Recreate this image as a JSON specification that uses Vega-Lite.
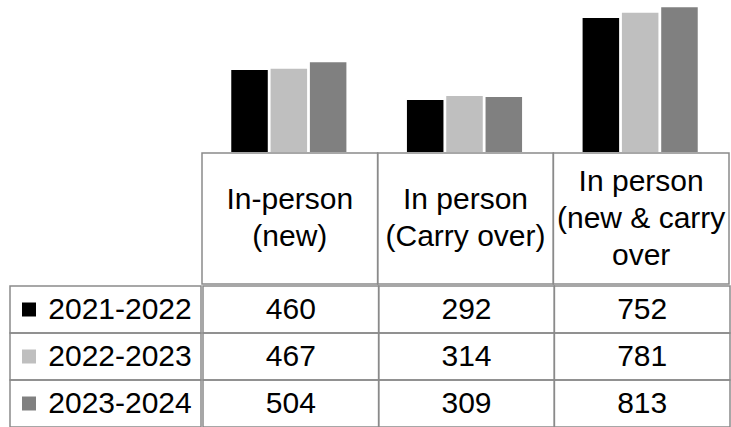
{
  "$schema": "https://vega.github.io/schema/vega-lite/v6.json",
  "padding": {"left": 9, "top": 0, "right": 4, "bottom": 0},
  "background": "white",
  "spacing": 0,
  "config": {"view": {"stroke": null}, "font": "Liberation Sans", "concat": {"spacing": 0}},
  "datasets": {
    "vals": [
      {"category": "In-person\n(new)", "year": "2021-2022", "value": 460},
      {"category": "In-person\n(new)", "year": "2022-2023", "value": 467},
      {"category": "In-person\n(new)", "year": "2023-2024", "value": 504},
      {"category": "In person\n(Carry over)", "year": "2021-2022", "value": 292},
      {"category": "In person\n(Carry over)", "year": "2022-2023", "value": 314},
      {"category": "In person\n(Carry over)", "year": "2023-2024", "value": 309},
      {"category": "In person\n(new & carry\nover", "year": "2021-2022", "value": 752},
      {"category": "In person\n(new & carry\nover", "year": "2022-2023", "value": 781},
      {"category": "In person\n(new & carry\nover", "year": "2023-2024", "value": 813}
    ],
    "cats": [
      {"category": "In-person\n(new)"},
      {"category": "In person\n(Carry over)"},
      {"category": "In person\n(new & carry\nover"}
    ],
    "years": [
      {"year": "2021-2022"},
      {"year": "2022-2023"},
      {"year": "2023-2024"}
    ]
  },
  "vconcat": [
    {
      "spacing": 0,
      "hconcat": [
        {"width": 191, "height": 152, "data": {"values": []}, "mark": "point", "encoding": {}},
        {
          "width": 527, "height": 152,
          "data": {"name": "vals"},
          "mark": {"type": "bar"},
          "encoding": {
            "x": {"field": "category", "type": "nominal", "sort": ["In-person\n(new)", "In person\n(Carry over)", "In person\n(new & carry\nover"], "scale": {"paddingInner": 0, "paddingOuter": 0}, "axis": null},
            "xOffset": {"field": "year", "type": "nominal", "sort": ["2021-2022", "2022-2023", "2023-2024"], "scale": {"paddingInner": 0.071, "paddingOuter": 0.77}},
            "y": {"field": "value", "type": "quantitative", "scale": {"domain": [0, 853]}, "axis": null},
            "color": {"field": "year", "type": "nominal", "sort": ["2021-2022", "2022-2023", "2023-2024"], "scale": {"range": ["#000000", "#bfbfbf", "#808080"]}, "legend": null}
          }
        }
      ]
    },
    {
      "spacing": 0,
      "hconcat": [
        {"width": 191, "height": 131, "data": {"values": []}, "mark": "point", "encoding": {}},
        {
          "width": 527, "height": 131,
          "data": {"name": "cats"},
          "layer": [
            {
              "mark": {"type": "rect", "fill": "white", "fillOpacity": 0, "stroke": "#8a8a8a", "strokeWidth": 1.5},
              "encoding": {
                "x": {"field": "category", "type": "nominal", "sort": ["In-person\n(new)", "In person\n(Carry over)", "In person\n(new & carry\nover"], "scale": {"paddingInner": 0, "paddingOuter": 0}, "axis": null}
              }
            },
            {
              "mark": {"type": "text", "fontSize": 30, "color": "#000000", "lineBreak": "\n", "lineHeight": 37, "baseline": "middle", "align": "center", "dy": {"expr": "-(length(split(datum.category, '\\n')) - 1) * 18.5"}},
              "encoding": {
                "x": {"field": "category", "type": "nominal", "sort": ["In-person\n(new)", "In person\n(Carry over)", "In person\n(new & carry\nover"], "axis": null},
                "text": {"field": "category"}
              }
            }
          ]
        }
      ]
    },
    {
      "spacing": 0,
      "hconcat": [
        {
          "width": 191, "height": 141,
          "data": {"name": "years"},
          "layer": [
            {
              "mark": {"type": "rect", "fill": "white", "fillOpacity": 0, "stroke": "#8a8a8a", "strokeWidth": 1.5},
              "encoding": {
                "y": {"field": "year", "type": "nominal", "sort": ["2021-2022", "2022-2023", "2023-2024"], "scale": {"paddingInner": 0, "paddingOuter": 0}, "axis": null}
              }
            },
            {
              "mark": {"type": "point", "shape": "square", "filled": true, "size": 196, "opacity": 1, "xOffset": -76.5},
              "encoding": {
                "y": {"field": "year", "type": "nominal", "sort": ["2021-2022", "2022-2023", "2023-2024"], "axis": null},
                "color": {"field": "year", "type": "nominal", "sort": ["2021-2022", "2022-2023", "2023-2024"], "scale": {"range": ["#000000", "#bfbfbf", "#808080"]}, "legend": null}
              }
            },
            {
              "mark": {"type": "text", "fontSize": 30, "color": "#000000", "baseline": "middle", "align": "center", "dx": 14.5},
              "encoding": {
                "y": {"field": "year", "type": "nominal", "sort": ["2021-2022", "2022-2023", "2023-2024"], "axis": null},
                "text": {"field": "year"}
              }
            }
          ]
        },
        {
          "width": 527, "height": 141,
          "data": {"name": "vals"},
          "encoding": {
            "x": {"field": "category", "type": "nominal", "sort": ["In-person\n(new)", "In person\n(Carry over)", "In person\n(new & carry\nover"], "scale": {"paddingInner": 0, "paddingOuter": 0}, "axis": null},
            "y": {"field": "year", "type": "nominal", "sort": ["2021-2022", "2022-2023", "2023-2024"], "scale": {"paddingInner": 0, "paddingOuter": 0}, "axis": null}
          },
          "layer": [
            {"mark": {"type": "rect", "fill": "white", "fillOpacity": 0, "stroke": "#8a8a8a", "strokeWidth": 1.5}},
            {
              "mark": {"type": "text", "fontSize": 30, "color": "#000000", "baseline": "middle", "align": "center"},
              "encoding": {"text": {"field": "value", "type": "quantitative", "format": "d"}}
            }
          ]
        }
      ]
    }
  ]
}
